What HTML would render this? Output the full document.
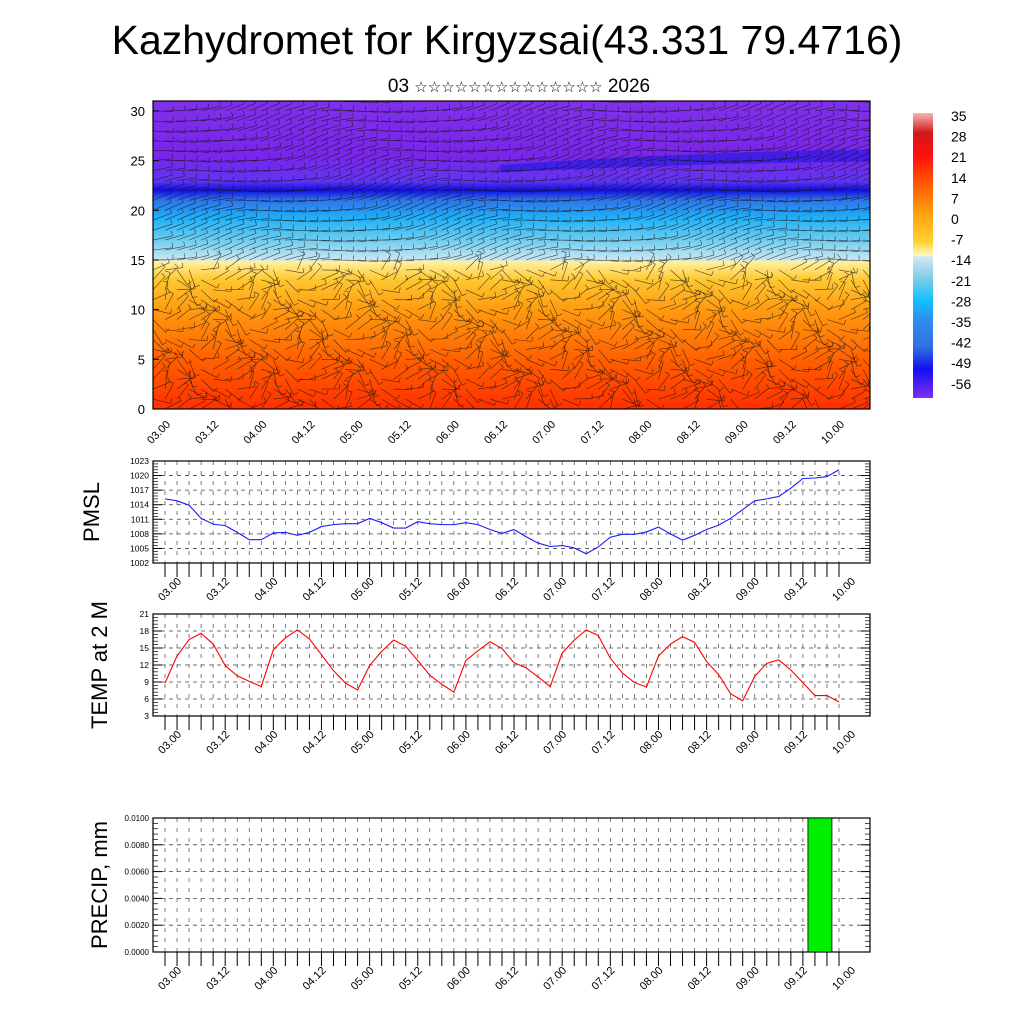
<!DOCTYPE html>
<html><head><meta charset="utf-8">
<style>
html,body{margin:0;padding:0;background:#fff;}
svg{display:block;font-family:"Liberation Sans","DejaVu Sans",sans-serif;}
</style></head>
<body>
<svg id="chart" width="1024" height="1024" viewBox="0 0 1024 1024" xmlns="http://www.w3.org/2000/svg">
<defs>
<linearGradient id="fieldGrad" x1="0" y1="1" x2="0" y2="0">
<stop offset="0" stop-color="#ff3000"/>
<stop offset="0.16" stop-color="#ff6000"/>
<stop offset="0.32" stop-color="#ff9a10"/>
<stop offset="0.42" stop-color="#ffc830"/>
<stop offset="0.478" stop-color="#fff0a0"/>
<stop offset="0.485" stop-color="#c8e6f2"/>
<stop offset="0.56" stop-color="#60c8f0"/>
<stop offset="0.62" stop-color="#20b0f8"/>
<stop offset="0.68" stop-color="#3070e8"/>
<stop offset="0.71" stop-color="#1010e0"/>
<stop offset="0.74" stop-color="#6035f0"/>
<stop offset="0.82" stop-color="#7a25ea"/>
<stop offset="1" stop-color="#8030ea"/>
</linearGradient>
<linearGradient id="cbGrad" x1="0" y1="0" x2="0" y2="1">
<stop offset="0" stop-color="#f8b4b4"/>
<stop offset="0.07" stop-color="#d01818"/>
<stop offset="0.15" stop-color="#ff1010"/>
<stop offset="0.25" stop-color="#ff5a00"/>
<stop offset="0.35" stop-color="#ffa010"/>
<stop offset="0.45" stop-color="#ffd030"/>
<stop offset="0.50" stop-color="#fff8c0"/>
<stop offset="0.505" stop-color="#d0e8f4"/>
<stop offset="0.58" stop-color="#80cce8"/>
<stop offset="0.66" stop-color="#10c0ff"/>
<stop offset="0.72" stop-color="#3090f0"/>
<stop offset="0.82" stop-color="#3070e0"/>
<stop offset="0.9" stop-color="#1010f0"/>
<stop offset="1" stop-color="#8030f0"/>
</linearGradient>
<clipPath id="fieldClip"><rect x="153" y="101" width="717" height="308"/></clipPath>
</defs>
<text x="507" y="54" font-size="41" text-anchor="middle">Kazhydromet for Kirgyzsai(43.331 79.4716)</text>
<text x="519" y="92" font-size="19" text-anchor="middle">03 <tspan font-size="15">☆☆☆☆☆☆☆☆☆☆☆☆☆☆</tspan> 2026</text>
<g id="top"></g>
<g id="pmsl"></g>
<g id="temp"></g>
<g id="precip"></g>
<g id="cb"></g>
</svg>
<script>
const timeLabels = ["03.00","03.12","04.00","04.12","05.00","05.12","06.00","06.12","07.00","07.12","08.00","08.12","09.00","09.12","10.00"];
const pmslValues = [1015.2,1014.8,1013.9,1011.2,1010.0,1009.7,1008.3,1006.8,1006.8,1008.2,1008.3,1007.7,1008.3,1009.5,1009.9,1010.1,1010.1,1011.2,1010.3,1009.2,1009.2,1010.5,1010.1,1009.9,1009.9,1010.3,1009.9,1008.9,1008.1,1008.9,1007.4,1006.1,1005.4,1005.6,1005.1,1003.9,1005.3,1007.3,1007.9,1007.9,1008.4,1009.4,1008.0,1006.7,1007.7,1008.9,1009.8,1011.2,1013.0,1014.8,1015.2,1015.7,1017.4,1019.4,1019.5,1019.8,1021.2];
const tempValues = [8.8,13.6,16.5,17.6,15.7,11.9,10.1,9.1,8.2,14.7,16.8,18.2,16.6,13.8,11.0,8.8,7.6,11.9,14.4,16.4,15.3,12.8,10.2,8.6,7.2,12.8,14.5,16.1,14.9,12.4,11.5,9.9,8.2,14.1,16.4,18.2,17.2,13.2,10.6,8.9,8.1,13.6,15.7,17.0,16.0,12.6,10.3,6.9,5.7,10.0,12.3,12.9,11.1,8.9,6.6,6.6,5.5];
const precipValues = [0,0,0,0,0,0,0,0,0,0,0,0,0,0,0,0,0,0,0,0,0,0,0,0,0,0,0,0,0,0,0,0,0,0,0,0,0,0,0,0,0,0,0,0,0,0,0,0,0,0,0,0,0,0,0.01,0,0];
const pmslTicks = [1002,1005,1008,1011,1014,1017,1020,1023];
const tempTicks = [3,6,9,12,15,18,21];
const precipTicks = ["0.0000","0.0020","0.0040","0.0060","0.0080","0.0100"];
const heightTicks = [0,5,10,15,20,25,30];
const cbLabels = [35,28,21,14,7,0,-7,-14,-21,-28,-35,-42,-49,-56];

const NS="http://www.w3.org/2000/svg";
const X0=153, X1=870;
function xAt(i){return 165 + i*(674/56);}
function mk(parent,tag,attrs,text){const e=document.createElementNS(NS,tag);for(const k in attrs)e.setAttribute(k,attrs[k]);if(text!==undefined)e.textContent=text;parent.appendChild(e);return e;}

function addTimeLabels(g, dx, y0, name){
  timeLabels.forEach((s,k)=>{
    const x=xAt(k*4)+dx, y=y0;
    const t=mk(g,'text',{x:x,y:y,'font-size':11,'text-anchor':'end',transform:`rotate(-45 ${x} ${y})`},s);
    
    
  });
}
function timeAxis(g, yb){
  for(let i=0;i<=56;i++){
    const t=mk(g,'line',{x1:xAt(i),x2:xAt(i),y1:yb,y2:yb+14,stroke:'#000','stroke-width':1});
    
    
  }
  addTimeLabels(g, 17, yb+19, 'x-tick-label');
}

function linePanel(g, yt, yb, vmin, vmax, ticks, values, color, title, titleY, fmt){
  const yS=v=>yb-(v-vmin)/(vmax-vmin)*(yb-yt);
  for(let i=0;i<=56;i++){
    const l=mk(g,'line',{x1:xAt(i),x2:xAt(i),y1:yt,y2:yb,stroke:'#444','stroke-width':0.7,'stroke-dasharray':'4,6'});
    
    
  }
  ticks.forEach((v,k)=>{
    const y=yS(typeof v==='string'?parseFloat(v):v);
    if(k>0&&k<ticks.length-1){
      const l=mk(g,'line',{x1:X0,x2:X1,y1:y,y2:y,stroke:'#444','stroke-width':0.8,'stroke-dasharray':'4,4'});
      
      
    }
    const a=mk(g,'line',{x1:X0,x2:X0+9,y1:y,y2:y,stroke:'#000','stroke-width':1});
    
    
    const b=mk(g,'line',{x1:X1-9,x2:X1,y1:y,y2:y,stroke:'#000','stroke-width':1});
    
    
    const t=mk(g,'text',{x:X0-4,y:y+3,'font-size':fmt||8.5,'text-anchor':'end'},String(v));
    
    
    if(k<ticks.length-1){
      const v2=(typeof v==='string'?parseFloat(v):v), nv=(typeof ticks[k+1]==='string'?parseFloat(ticks[k+1]):ticks[k+1]);
      for(let m=1;m<5;m++){const yy=yS(v2+(nv-v2)*m/5);
        const c=mk(g,'line',{x1:X0,x2:X0+5,y1:yy,y2:yy,stroke:'#000','stroke-width':0.7});
        
        
        const d=mk(g,'line',{x1:X1-5,x2:X1,y1:yy,y2:yy,stroke:'#000','stroke-width':0.7});
        
        }
    }
  });
  if(values && color){
    const p=mk(g,'polyline',{points:values.map((v,i)=>xAt(i)+','+yS(v)).join(' '),fill:'none',stroke:color,'stroke-width':1.1});
    
    
  }
  const fr=mk(g,'rect',{x:X0,y:yt,width:X1-X0,height:yb-yt,fill:'none',stroke:'#000','stroke-width':1.2});
  
  
  const ty=mk(g,'text',{x:0,y:0,'font-size':22,'text-anchor':'middle',transform:`translate(${titleY[0]} ${titleY[1]}) rotate(-90)`},title);
  
  
  timeAxis(g,yb);
  return yS;
}

linePanel(document.getElementById('pmsl'),461,563,1002,1023,pmslTicks,pmslValues,'#1a1aff','PMSL',[99,512]);
linePanel(document.getElementById('temp'),614,716,3,21,tempTicks,tempValues,'#ff0000','TEMP at 2 M',[107,665]);
(function(){
  const g=document.getElementById('precip');
  const yS=linePanel(g,818,952,0,0.01,precipTicks,null,null,'PRECIP, mm',[107,885],8);
  precipValues.forEach((v,i)=>{
    if(v>0){
      const y=yS(v);
      const r=mk(g,'rect',{x:xAt(i)-7,y:y,width:24,height:952-y,fill:'#00ee00',stroke:'#000','stroke-width':0.8});
      
      
    }
  });
})();

(function(){
  const g=document.getElementById('top');
  const yS=h=>409-h*(308/31);
  const bg=mk(g,'rect',{x:X0,y:101,width:X1-X0,height:308,fill:'url(#fieldGrad)'});
  
  
  const band=mk(g,'path',{d:'M500,165 C600,158 750,150 870,150 L870,162 C750,162 600,168 500,172 Z',fill:'#1515e0',opacity:0.55,'clip-path':'url(#fieldClip)'});
  
  
  const bars=mk(g,'g',{'clip-path':'url(#fieldClip)',stroke:'#111','stroke-width':0.6,opacity:0.75,fill:'none'});
  
  
  let d='';
  for(let i=-1;i<=60;i++){
    for(let h=0;h<=31;h+=1){
      const x=xAt(i), y=yS(h);
      const a=(h>14? Math.PI*(0.05+0.08*Math.sin(i*0.3+h*0.4)) : Math.PI*(0.3*Math.sin(i*0.9+h*0.7)+0.15*Math.cos(i*1.7)));
      const L=h>14?20:18;
      const x2=x+L*Math.cos(a), y2=y-L*Math.sin(a);
      d+=`M${x.toFixed(1)},${y.toFixed(1)}L${x2.toFixed(1)},${y2.toFixed(1)}`;
      const bx=x2-5*Math.sin(a), by=y2-5*Math.cos(a);
      d+=`M${x2.toFixed(1)},${y2.toFixed(1)}L${bx.toFixed(1)},${by.toFixed(1)}`;
    }
  }
  mk(bars,'path',{d:d});
  heightTicks.forEach(v=>{
    const y=yS(v);
    const t=mk(g,'text',{x:X0-8,y:y+5,'font-size':13,'text-anchor':'end'},String(v));
    
    
    const l=mk(g,'line',{x1:X0,x2:X0+6,y1:y,y2:y,stroke:'#000'});
    
    
  });
  const fr=mk(g,'rect',{x:X0,y:101,width:X1-X0,height:308,fill:'none',stroke:'#000','stroke-width':1.2});
  
  
  addTimeLabels(g, 6, 425, 'field-x-tick-label');
})();

(function(){
  const g=document.getElementById('cb');
  const r=mk(g,'rect',{x:913,y:113,width:20,height:285,fill:'url(#cbGrad)'});
  
  
  cbLabels.forEach((v,k)=>{
    const t=mk(g,'text',{x:951,y:121+k*20.6,'font-size':14},String(v));
    
    
  });
})();
</script>
</body></html>
